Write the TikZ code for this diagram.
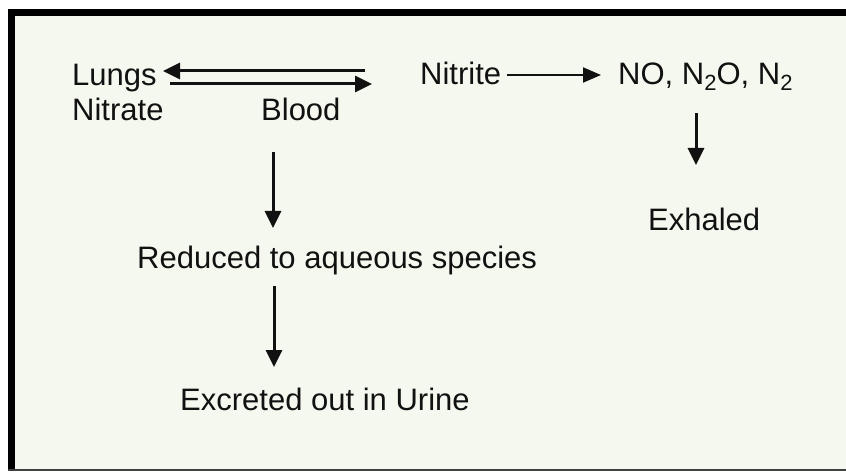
\documentclass[tikz,border=0pt]{standalone}
\usepackage{fontspec}
\setmainfont{Liberation Sans}
\usetikzlibrary{arrows.meta}
\definecolor{cream}{RGB}{245,248,238}
\definecolor{ink}{RGB}{17,17,17}
\newcommand{\subtwo}{{\fontsize{22}{22}\selectfont\raisebox{-6pt}{2}}}
\begin{document}
\begin{tikzpicture}[x=1pt,y=1pt,
  lbl/.style={anchor=base west,inner sep=0pt,text=ink,font=\fontsize{31}{35}\selectfont},
  arr/.style={draw=ink,line width=3pt,-{Triangle[length=17pt,width=16pt]}},
  thinarr/.style={draw=ink,line width=2pt,-{Triangle[length=18pt,width=15pt]}}]
\useasboundingbox (0,0) rectangle (846,472);
\fill[white] (0,0) rectangle (846,472);
\fill[cream] (8,2) rectangle (846,463);
\fill[black] (8,2) rectangle (15,463);
\fill[black] (8,456) rectangle (846,463);
\fill[black!75] (8,1) rectangle (846,3);
% nodes
\node[lbl] (lungs) at (72,386) {Lungs};
\node[lbl] (nitrate) at (72,351) {Nitrate};
\node[lbl] (blood) at (261,351) {Blood};
\node[lbl] (nitrite) at (420,387) {Nitrite};
\node[lbl] (no) at (618,387) {NO, N\subtwo O, N\subtwo};
\node[lbl] (exhaled) at (648,242) {Exhaled};
\node[lbl] (reduced) at (137,204) {Reduced to aqueous species};
\node[lbl] (excreted) at (180,62) {Excreted out in Urine};
% connector end points
\coordinate (bl1) at (365,401);
\coordinate (lu1) at (163,401);
\coordinate (lu2) at (170,388);
\coordinate (bl2) at (372,388);
\coordinate (ni1) at (507,397);
\coordinate (no1) at (601,397);
\coordinate (no2) at (696,359);
\coordinate (ex1) at (696,307);
\coordinate (bd1) at (273,320);
\coordinate (rd1) at (273,244);
\coordinate (rd2) at (274,186);
\coordinate (xc1) at (274,105);
% connectors
\draw[arr] (bl1) -- (lu1);
\draw[arr] (lu2) -- (bl2);
\draw[thinarr] (ni1) -- (no1);
\draw[arr] (no2) -- (ex1);
\draw[arr] (bd1) -- (rd1);
\draw[arr] (rd2) -- (xc1);
\end{tikzpicture}
\end{document}
